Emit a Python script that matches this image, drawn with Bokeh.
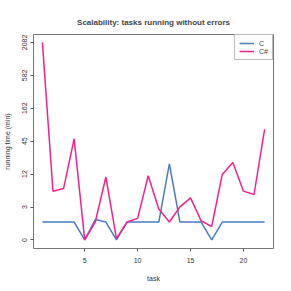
import numpy as np
from bokeh.plotting import figure
from bokeh.models import Legend, LegendItem, FixedTicker, Range1d
from bokeh.embed import file_html
from bokeh.resources import INLINE

tasks = list(range(1, 23))
c_minutes = [1, 1, 1, 1, 0, 1.2, 1, 0, 1, 1, 1, 1, 18, 1, 1, 1, 0, 1, 1, 1, 1, 1]
cs_minutes = [2082, 5.6, 6.3, 49, 0, 1.0, 10.4, 0.05, 1, 1.3, 11, 2.3, 1, 2.6,
              4.1, 1.1, 0.67, 11.6, 19, 5.6, 4.8, 71]
y_tick_labels = ["0", "3", "12", "45", "162", "582", "2082"]
series_names = ["C", "C#"]
series_colors = ["#4a7bc0", "#f5208c"]

TOP = 2082.0
def tr(v):
    return list(np.log1p(np.array(v, dtype=float)) / np.log1p(TOP) * 6)

FONT = "Liberation Sans"

p = figure(width=285, height=285, output_backend="svg", toolbar_location=None,
           x_range=Range1d(0.16, 22.84), y_range=Range1d(-0.26, 6.24),
           title="Scalability: tasks running without errors",
           min_border_left=33, min_border_right=12, min_border_top=34,
           min_border_bottom=37)

p.title.align = "center"
p.title.text_font = FONT
p.title.text_font_size = "8px"
p.title.text_font_style = "bold"
p.title.standoff = 15

r1 = p.line(tasks, tr(c_minutes), line_color=series_colors[0], line_width=1.5)
r2 = p.line(tasks, tr(cs_minutes), line_color=series_colors[1], line_width=1.5)

p.xgrid.visible = False
p.ygrid.visible = False
p.outline_line_color = "#777777"
p.outline_line_width = 1

p.xaxis.ticker = FixedTicker(ticks=[5, 10, 15, 20])
p.yaxis.ticker = FixedTicker(ticks=list(range(7)))
p.yaxis.major_label_overrides = {i: s for i, s in enumerate(y_tick_labels)}
p.yaxis.major_label_orientation = "vertical"

for ax in (p.xaxis[0], p.yaxis[0]):
    ax.axis_line_color = None
    ax.major_tick_line_color = "#555555"
    ax.major_tick_in = 0
    ax.major_tick_out = 3
    ax.minor_tick_line_color = None
    ax.major_label_text_font = FONT
    ax.major_label_text_font_size = "7px"
    ax.major_label_text_color = "#333333"
    ax.axis_label_text_font = FONT
    ax.axis_label_text_font_size = "7px"
    ax.axis_label_text_font_style = "normal"
    ax.axis_label_text_color = "#333333"

p.xaxis.axis_label = "task"
p.xaxis.major_label_standoff = 6
p.xaxis.axis_label_standoff = 9
p.yaxis.axis_label = "running time (min)"
p.yaxis.major_label_standoff = 3
p.yaxis.axis_label_standoff = 9

legend = Legend(items=[LegendItem(label=series_names[0], renderers=[r1]),
                       LegendItem(label=series_names[1], renderers=[r2])],
                location="top_right")
legend.margin = 0
legend.padding = 4
legend.spacing = 0
legend.glyph_width = 15
legend.glyph_height = 8
legend.label_height = 8
legend.label_width = 8
legend.label_standoff = 5
legend.label_text_font = FONT
legend.label_text_font_size = "7px"
legend.border_line_color = "#777777"
legend.border_line_width = 1
legend.background_fill_alpha = 1
p.add_layout(legend)

open("out.html", "w").write(file_html(p, INLINE))
